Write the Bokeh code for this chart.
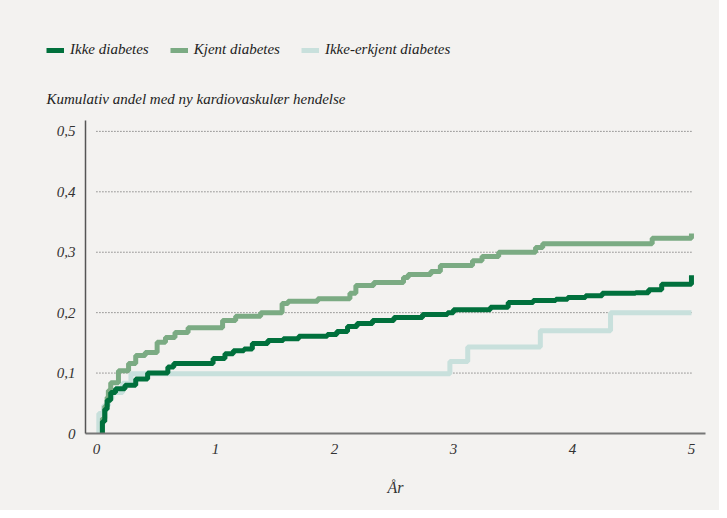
from bokeh.plotting import figure
from bokeh.layouts import column, row
from bokeh.models import Range1d, Legend, LegendItem, Label, FixedTicker
from bokeh.embed import file_html
from bokeh.resources import INLINE

# --- data ---
ikke_t = [0.03, 0.05, 0.07, 0.09, 0.12, 0.16, 0.24, 0.33, 0.43, 0.6, 0.65, 0.98, 1.08, 1.15,
          1.24, 1.31, 1.44, 1.57, 1.7, 1.94, 2.02, 2.11, 2.19, 2.32, 2.5, 2.74, 2.95, 3.0,
          3.31, 3.46, 3.67, 3.86, 3.96, 4.11, 4.25, 4.53, 4.64, 4.75, 5.0]
ikke_v = [0.0, 0.02, 0.04, 0.055, 0.068, 0.074, 0.08, 0.09, 0.1, 0.11, 0.116, 0.124, 0.132, 0.137,
          0.14, 0.149, 0.154, 0.157, 0.161, 0.164, 0.169, 0.177, 0.182, 0.187, 0.192, 0.197, 0.2, 0.205,
          0.209, 0.217, 0.22, 0.222, 0.225, 0.228, 0.232, 0.233, 0.238, 0.247, 0.262]

kjent_t = [0.03, 0.05, 0.07, 0.09, 0.1, 0.12, 0.185, 0.27, 0.33, 0.41, 0.51, 0.58, 0.66, 0.77,
           1.06, 1.17, 1.38, 1.56, 1.61, 1.86, 2.13, 2.18, 2.33, 2.58, 2.62, 2.81, 2.89, 3.16,
           3.24, 3.38, 3.69, 3.75, 4.67, 5.0]
kjent_v = [0.0, 0.025, 0.045, 0.06, 0.071, 0.084, 0.104, 0.116, 0.129, 0.134, 0.151, 0.159, 0.167, 0.175,
           0.187, 0.194, 0.2, 0.215, 0.219, 0.223, 0.232, 0.245, 0.25, 0.258, 0.263, 0.268, 0.278, 0.286,
           0.293, 0.3, 0.308, 0.314, 0.323, 0.331]

uerk_t = [0.01, 0.02, 0.06, 0.1, 0.13, 0.22, 0.29, 2.97, 3.12, 3.73, 4.32, 5.0]
uerk_v = [0.0, 0.033, 0.046, 0.058, 0.068, 0.083, 0.099, 0.119, 0.143, 0.17, 0.2, 0.2]

x_ticks = [0, 1, 2, 3, 4, 5]
y_ticks = [0, 0.1, 0.2, 0.3, 0.4, 0.5]
y_tick_labels = ["0", "0,1", "0,2", "0,3", "0,4", "0,5"]
grid_levels = [0.1, 0.2, 0.3, 0.4, 0.5]

series_names = ["Ikke diabetes", "Kjent diabetes", "Ikke-erkjent diabetes"]
y_title = "Kumulativ andel med ny kardiovaskulær hendelse"
x_title = "År"

C_DARK = "#00703c"
C_MID = "#7bab83"
C_LIGHT = "#c8e0dc"
BG = "#f3f2f0"
FONT = "Liberation Serif"
W = 719
TOP_H = 110
MAIN_H = 400

# ---------- header figure: legend + y-axis title ----------
top = figure(width=W, height=TOP_H, output_backend="svg", toolbar_location=None,
             x_range=Range1d(0, W), y_range=Range1d(TOP_H, 0),
             x_axis_location=None, y_axis_location=None,
             min_border=0, min_border_left=0, min_border_right=0,
             min_border_top=0, min_border_bottom=0)
top.background_fill_color = BG
top.border_fill_color = BG
top.outline_line_color = None
top.xgrid.visible = False
top.ygrid.visible = False

# off-screen stand-ins so the legend has line swatches
off_x = [-200, -190]
off_y = [-200, -200]
d_d = top.line(x=off_x, y=off_y, line_color=C_DARK, line_width=5)
d_m = top.line(x=off_x, y=off_y, line_color=C_MID, line_width=5)
d_l = top.line(x=off_x, y=off_y, line_color=C_LIGHT, line_width=5)

legend = Legend(items=[LegendItem(label=series_names[0], renderers=[d_d]),
                       LegendItem(label=series_names[1], renderers=[d_m]),
                       LegendItem(label=series_names[2], renderers=[d_l])],
                orientation="horizontal", location=(46, TOP_H - 58),
                label_text_font=FONT, label_text_font_style="italic",
                label_text_font_size="15px", label_text_color="#222222",
                glyph_width=18, glyph_height=16, label_standoff=6, spacing=21,
                padding=0, margin=0, border_line_color=None, background_fill_alpha=0)
top.add_layout(legend, "center")

top.add_layout(Label(x=46, y=98, text=y_title,
                     text_font=FONT, text_font_style="italic", text_font_size="15px",
                     text_color="#222222", text_baseline="middle"))

# ---------- main chart ----------
p = figure(width=W, height=MAIN_H, output_backend="svg", toolbar_location=None,
           x_range=Range1d(-0.092, 5.118), y_range=Range1d(0, 0.518),
           min_border_left=85, min_border_right=14, min_border_top=10, min_border_bottom=77)
p.background_fill_color = BG
p.border_fill_color = BG
p.outline_line_color = None
p.xgrid.visible = False
p.ygrid.visible = False

# dotted gridlines spanning 0..5
p.segment(x0=[0] * len(grid_levels), x1=[5] * len(grid_levels), y0=grid_levels, y1=grid_levels,
          line_color="#555555", line_width=1, line_dash="1 2")

p.step(uerk_t, uerk_v, mode="after", line_color=C_LIGHT, line_width=5)
p.step(kjent_t, kjent_v, mode="after", line_color=C_MID, line_width=5)
p.step(ikke_t, ikke_v, mode="after", line_color=C_DARK, line_width=5)

for ax in (p.xaxis[0], p.yaxis[0]):
    ax.major_tick_line_color = None
    ax.minor_tick_line_color = None
    ax.major_tick_in = 0
    ax.major_tick_out = 0
    ax.major_label_text_font = FONT
    ax.major_label_text_font_style = "italic"
    ax.major_label_text_font_size = "15px"
    ax.major_label_text_color = "#333333"

p.xaxis.ticker = FixedTicker(ticks=x_ticks)
p.xaxis.axis_line_color = "#777777"
p.xaxis.axis_line_width = 2
p.xaxis.major_label_standoff = 10
p.xaxis.axis_label = x_title
p.xaxis.axis_label_text_font = FONT
p.xaxis.axis_label_text_font_style = "italic"
p.xaxis.axis_label_text_font_size = "16px"
p.xaxis.axis_label_text_color = "#333333"
p.xaxis.axis_label_standoff = 22

p.yaxis.ticker = FixedTicker(ticks=y_ticks)
p.yaxis.major_label_overrides = {t: s for t, s in zip(y_ticks, y_tick_labels)}
p.yaxis.axis_line_color = "#555555"
p.yaxis.axis_line_width = 1.5
p.yaxis.major_label_standoff = 10

layout = column(row(top), p, spacing=0)
layout.styles = {"background-color": BG}

open("out.html", "w").write(file_html(layout, INLINE))
